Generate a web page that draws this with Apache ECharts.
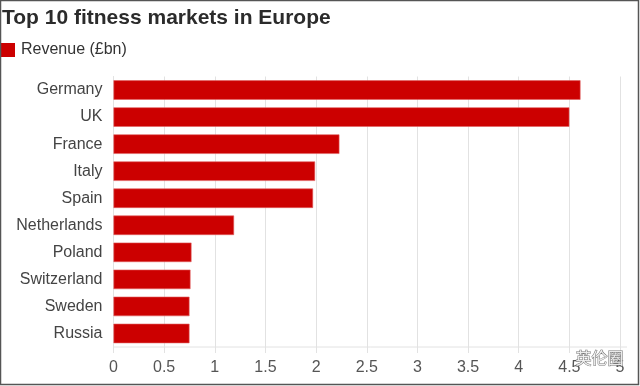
<!DOCTYPE html>
<html>
<head>
<meta charset="utf-8">
<script src="https://cdn.jsdelivr.net/npm/echarts@6/dist/echarts.min.js"></script>
<style>
html,body{margin:0;padding:0;background:#fff;}
#c{width:640px;height:386px;}
</style>
</head>
<body>
<div id="c"></div>
<script>
var categories = ["Germany","UK","France","Italy","Spain","Netherlands","Poland","Switzerland","Sweden","Russia"];
var revenue = [4.61, 4.50, 2.23, 1.99, 1.97, 1.19, 0.77, 0.76, 0.75, 0.75];
var seriesName = "Revenue (£bn)";
var titleText = "Top 10 fitness markets in Europe";
var xMin = 0, xMax = 5, xStep = 0.5;

var chart = echarts.init(document.getElementById('c'), null, {renderer:'canvas'});
var font = '"Liberation Sans", Arial, sans-serif';
chart.setOption({
  animation: false,
  backgroundColor: '#fff',
  title: {
    text: titleText, left: -3, top: 3,
    textStyle: {fontFamily: font, fontSize: 21, fontWeight: 'bold', color: '#2b2b2b'}
  },
  legend: {
    data: [seriesName], left: 1, top: 42, itemWidth: 14, itemHeight: 14, itemGap: 6,
    icon: 'rect',
    itemStyle: {borderWidth: 0, color: '#cc0000'},
    textStyle: {fontFamily: font, fontSize: 16, color: '#333', padding: [0,0,0,1]},
    padding: 0
  },
  grid: {left: 113.5, right: 20, top: 76.5, bottom: 39, containLabel: false},
  xAxis: {
    type: 'value', min: xMin, max: xMax, interval: xStep,
    axisLine: {show: false},
    axisTick: {show: true, length: 6, lineStyle: {color: '#e2e2e2'}},
    splitLine: {show: true, lineStyle: {color: '#e2e2e2', width: 1}},
    axisLabel: {fontFamily: font, fontSize: 16, color: '#555', margin: 13}
  },
  yAxis: {
    type: 'category', data: categories, inverse: true,
    axisLine: {show: true, lineStyle: {color: '#e2e2e2'}},
    axisTick: {show: false},
    axisLabel: {fontFamily: font, fontSize: 16, color: '#444', margin: 11, padding: [3,0,0,0]}
  },
  series: [{
    name: seriesName, type: 'bar', data: revenue,
    barCategoryGap: '28%',
    itemStyle: {color: '#cc0000', borderColor: '#e06060', borderWidth: 0.6},
    emphasis: {disabled: true}
  }],
  graphic: [
    {type: 'line', shape: {x1: 113.5, y1: 347, x2: 627, y2: 347}, style: {stroke: '#e2e2e2', lineWidth: 1}, z: 5},
    {type: 'text', left: 575, top: 349, style: {text: '英伦圈', font: '16px "Noto Sans CJK SC", sans-serif', fill: 'rgba(255,255,255,0.85)', stroke: '#777', lineWidth: 1}, z: 20},
    {type: 'rect', shape: {x: 0.5, y: 0.5, width: 638, height: 384}, style: {fill: 'none', stroke: '#555', lineWidth: 1.5}, z: 30}
  ]
});
</script>
</body>
</html>
